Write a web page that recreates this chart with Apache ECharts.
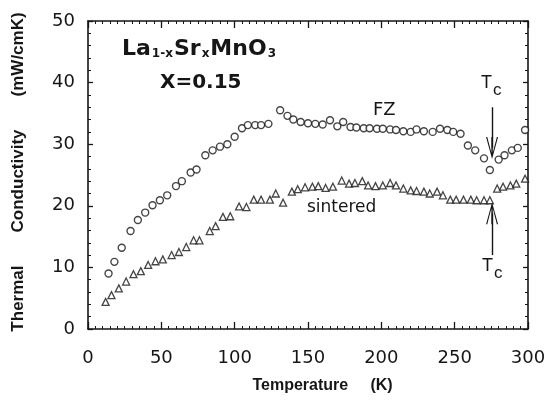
<!DOCTYPE html>
<html>
<head>
<meta charset="utf-8">
<title>Thermal conductivity La1-xSrxMnO3</title>
<script src="https://cdn.jsdelivr.net/npm/echarts@6/dist/echarts.min.js"></script>
<style>
  html, body { margin: 0; padding: 0; background: #fff; }
  #main { width: 560px; height: 403px; }
</style>
</head>
<body>
<div id="main"></div>
<script>
// FZ 样品 (circles)
var fzT = [14, 18, 23, 29, 34, 39, 44, 49, 54, 60, 64, 70, 74, 80, 85, 90, 95, 100, 105, 109, 114, 118, 123, 131,
           136, 140, 145, 150, 155, 160, 165, 170, 174, 179, 183, 188, 192, 197, 201, 206, 210, 215, 220, 224, 229,
           235, 240, 245, 249, 254, 259, 264, 270, 274, 280, 284, 289, 293, 298];
var fzK = [9.0, 10.9, 13.2, 15.9, 17.7, 18.9, 20.1, 20.9, 21.7, 23.2, 24.0, 25.4, 25.9, 28.2, 29.0, 29.6, 30.0, 31.2, 32.6, 33.1, 33.1, 33.1, 33.3, 35.5,
           34.6, 34.0, 33.6, 33.4, 33.3, 33.2, 33.9, 32.9, 33.6, 32.8, 32.7, 32.6, 32.6, 32.5, 32.5, 32.4, 32.3, 32.1, 32.0, 32.4, 32.1,
           32.0, 32.5, 32.3, 32.0, 31.7, 29.8, 29.0, 27.7, 25.8, 27.5, 28.2, 29.0, 29.4, 32.3];
// sintered 样品 (triangles)
var sinT = [12, 16, 21, 26, 31, 36, 41, 46, 51, 57, 62, 67, 72, 76, 83, 87, 92, 97, 103, 108, 113, 118, 124, 128, 133,
            139, 143, 148, 153, 157, 162, 167, 173, 178, 182, 187, 191, 196, 201, 206, 210, 215, 220, 224, 229, 233,
            238, 242, 247, 251, 256, 261, 265, 270, 274, 279, 283, 288, 292, 298];
var sinK = [4.4, 5.5, 6.6, 7.7, 8.9, 9.4, 10.4, 11.0, 11.3, 12.0, 12.5, 13.3, 14.4, 14.4, 15.9, 16.7, 18.2, 18.3, 19.9, 19.8, 21.0, 21.0, 21.0, 22.0, 20.5,
            22.3, 22.7, 23.0, 23.1, 23.2, 22.9, 23.1, 24.1, 23.6, 23.7, 24.0, 23.3, 23.2, 23.3, 23.7, 23.3, 22.8, 22.5, 22.4, 22.3, 22.0,
            22.3, 21.7, 21.0, 21.0, 21.0, 21.0, 20.9, 20.9, 20.9, 22.8, 23.1, 23.3, 23.6, 24.4];
var xTicks = [0, 50, 100, 150, 200, 250, 300];
var yTicks = [0, 10, 20, 30, 40, 50];
// Tc 箭头 (x, y起点, y终点)
var tcArrows = [[275.5, 36.0, 29.4], [275.5, 12.0, 18.8]];

function pairs(xs, ys) {
    return xs.map(function (x, i) { return [x, ys[i]]; });
}

var ink = '#161616';
var labelFont = '"DejaVu Sans", sans-serif';
var nameFont = '"Liberation Sans", Arial, sans-serif';
var sp = '       ';

var myChart = echarts.init(document.getElementById('main'));

function frameAxis(pos, isX, show) {
    return {
        type: 'value',
        position: pos,
        min: isX ? xTicks[0] : yTicks[0],
        max: isX ? xTicks[xTicks.length - 1] : yTicks[yTicks.length - 1],
        interval: isX ? 50 : 10,
        axisLine: { show: true, onZero: false, lineStyle: { color: ink, width: 1.6 } },
        axisTick: { show: true, inside: true, length: isX ? 7 : 5, lineStyle: { color: ink, width: 1.3 } },
        minorTick: { show: true, splitNumber: isX ? 10 : 5, length: 3, lineStyle: { color: ink, width: 1 } },
        splitLine: { show: false },
        axisLabel: {
            show: show,
            color: ink,
            fontFamily: labelFont,
            fontSize: 18,
            margin: isX ? 20 : 13
        }
    };
}

var xBottom = frameAxis('bottom', true, true);
xBottom.name = 'Temperature     (K)';
xBottom.nameLocation = 'middle';
xBottom.nameGap = 49;
xBottom.nameTextStyle = { color: ink, fontFamily: nameFont, fontSize: 16, fontWeight: 'bold', padding: [0, 0, 0, 29] };

var yLeft = frameAxis('left', false, true);
yLeft.name = 'Thermal' + sp + 'Conductivity' + sp + '(mW/cmK)';
yLeft.nameLocation = 'middle';
yLeft.nameGap = 55;
yLeft.nameTextStyle = { color: ink, fontFamily: nameFont, fontSize: 17, fontWeight: 'bold', padding: [0, 0, 6, 6] };

var tcRich = {
    t: { fontSize: 18, fontFamily: nameFont, fill: ink },
    c: { fontSize: 17, fontFamily: nameFont, fill: ink, padding: [14, 0, 0, 1] }
};

var option = {
    animation: false,
    backgroundColor: '#fff',
    grid: { left: 88, right: 32, top: 21, bottom: 74, containLabel: false, outerBoundsMode: 'none' },
    xAxis: [xBottom, frameAxis('top', true, false)],
    yAxis: [yLeft, frameAxis('right', false, false)],
    series: [
        {
            name: 'FZ',
            type: 'scatter',
            symbol: 'circle',
            symbolSize: 7,
            itemStyle: { color: '#fff', borderColor: ink, borderWidth: 1.4 },
            data: pairs(fzT, fzK),
            z: 3
        },
        {
            name: 'sintered',
            type: 'scatter',
            symbol: 'triangle',
            symbolSize: 7,
            itemStyle: { color: '#fff', borderColor: ink, borderWidth: 1.3 },
            data: pairs(sinT, sinK),
            z: 3,
            markLine: {
                silent: true,
                symbol: ['none', 'path://M0,0 L5,14 L4,14 L0.6,4 L0.6,14 L-0.6,14 L-0.6,4 L-4,14 L-5,14 Z'],
                symbolSize: [12, 22],
                label: { show: false },
                lineStyle: { color: ink, width: 1.4, type: 'solid' },
                data: tcArrows.map(function (a) {
                    return [{ coord: [a[0], a[1]] }, { coord: [a[0], a[2]] }];
                })
            }
        }
    ],
    graphic: [
        {
            type: 'text', left: 122, top: 38,
            style: {
                text: '{b|La}{s|1-x}{b|Sr}{s|x}{b|MnO}{s|3}',
                rich: {
                    b: { fontSize: 22, fontWeight: 'bold', fontFamily: labelFont, fill: ink, verticalAlign: 'bottom' },
                    s: { fontSize: 12, fontWeight: 'bold', fontFamily: labelFont, fill: ink, padding: [13, 1, 0, 1], verticalAlign: 'bottom' }
                }
            }
        },
        {
            type: 'text', left: 160, top: 73,
            style: { text: 'X=0.15', fontSize: 20, fontWeight: 'bold', fontFamily: labelFont, fill: ink }
        },
        {
            type: 'text', left: 373, top: 101,
            style: { text: 'FZ', fontSize: 18, fontFamily: labelFont, fill: ink }
        },
        {
            type: 'text', left: 307, top: 199,
            style: { text: 'sintered', fontSize: 17, fontFamily: labelFont, fill: ink }
        },
        {
            type: 'text', left: 481, top: 74,
            style: { text: '{t|T}{c|c}', rich: tcRich }
        },
        {
            type: 'text', left: 482, top: 257,
            style: { text: '{t|T}{c|c}', rich: tcRich }
        }
    ]
};
myChart.setOption(option);
</script>
</body>
</html>
